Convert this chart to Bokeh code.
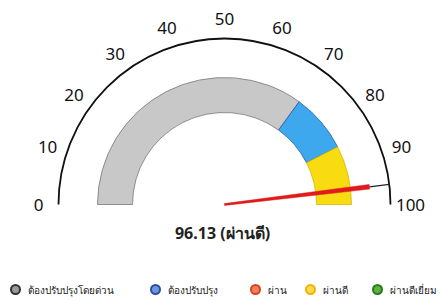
import math
from bokeh.plotting import figure
from bokeh.models import Range1d
from bokeh.core.properties import value
from bokeh.embed import file_html
from bokeh.resources import INLINE

# ---- data ----
gauge_min = 0
gauge_max = 100
tick_values = [0, 10, 20, 30, 40, 50, 60, 70, 80, 90, 100]
tick_labels = ["0", "10", "20", "30", "40", "50", "60", "70", "80", "90", "100"]
band_starts = [0, 70, 85]
band_ends = [70, 85, 100]
band_colors = ["#c8c8c8", "#3ea8ef", "#f9db12"]
band_lines = ["#6a6a6a", "#1d4f96", "#c9b000"]
score = 96.13
score_label = "ผ่านดี"
legend_labels = ["ต้องปรับปรุงโดยด่วน", "ต้องปรับปรุง", "ผ่าน", "ผ่านดี", "ผ่านดีเยี่ยม"]
legend_fill = ["#9a9a9a", "#6f95dc", "#f0825a", "#ffd84d", "#5db43c"]
legend_line = ["#333333", "#2a4f9f", "#d8431c", "#f0b400", "#2b7a1c"]

# ---- layout (pixels) ----
R_OUT_ARC = 166
R_BAND_IN = 92
R_BAND_OUT = 127
R_LABEL = 186
legend_x = [-209, -69, 31, 86, 153]
legend_y = -85

def ang(v):
    return math.pi * (1 - (v - gauge_min) / (gauge_max - gauge_min))

p = figure(width=445, height=300, output_backend="svg", toolbar_location=None,
           x_range=Range1d(-224, 221), y_range=Range1d(-96, 204),
           min_border=0, outline_line_color=None)
p.axis.visible = False
p.grid.visible = False
p.background_fill_color = "white"

# band
p.annular_wedge(x=0, y=0, inner_radius=R_BAND_IN, outer_radius=R_BAND_OUT,
                start_angle=[ang(e) for e in band_ends],
                end_angle=[ang(s) for s in band_starts],
                fill_color=band_colors, line_color=band_lines, line_width=1, line_alpha=0.7)

# outer arc
p.arc(x=0, y=0, radius=R_OUT_ARC, start_angle=0, end_angle=math.pi,
      line_color="#111111", line_width=1.8)

# tick labels
p.text(x=[R_LABEL * math.cos(ang(v)) for v in tick_values],
       y=[R_LABEL * math.sin(ang(v)) for v in tick_values],
       text=tick_labels, text_align="center", text_baseline="middle",
       text_font=value("Noto Sans"), text_font_size="17px", text_color="#111111")

# needle (tapered)
a = ang(score)
ca, sa = math.cos(a), math.sin(a)
nx, ny = -sa, ca
w0, w1 = 0.9, 2.3
r_red = 146
p.segment(x0=[r_red * ca], y0=[r_red * sa], x1=[R_OUT_ARC * ca], y1=[R_OUT_ARC * sa],
          line_color="#222222", line_width=1.2)
p.patch(x=[nx * w0, r_red * ca + nx * w1, r_red * ca - nx * w1, -nx * w0],
        y=[ny * w0, r_red * sa + ny * w1, r_red * sa - ny * w1, -ny * w0],
        fill_color="#e01b1b", line_color="#e01b1b", line_width=0.5)

# value text
p.text(x=[-2], y=[-28], text=[f"{score:.2f} ({score_label})"],
       text_align="center", text_baseline="middle",
       text_font=value("Noto Sans"), text_font_size="16px", text_font_style="bold",
       text_color="#222222")

# legend
p.scatter(x=legend_x, y=[legend_y] * 5, size=9, marker="circle",
          fill_color=legend_fill, line_color=legend_line, line_width=2)
p.text(x=[x + 12 for x in legend_x], y=[legend_y] * 5, text=legend_labels,
       text_align="left", text_baseline="middle",
       text_font=value("Noto Sans"), text_font_size="10px", text_color="#222222")

open("out.html", "w").write(file_html(p, INLINE))
